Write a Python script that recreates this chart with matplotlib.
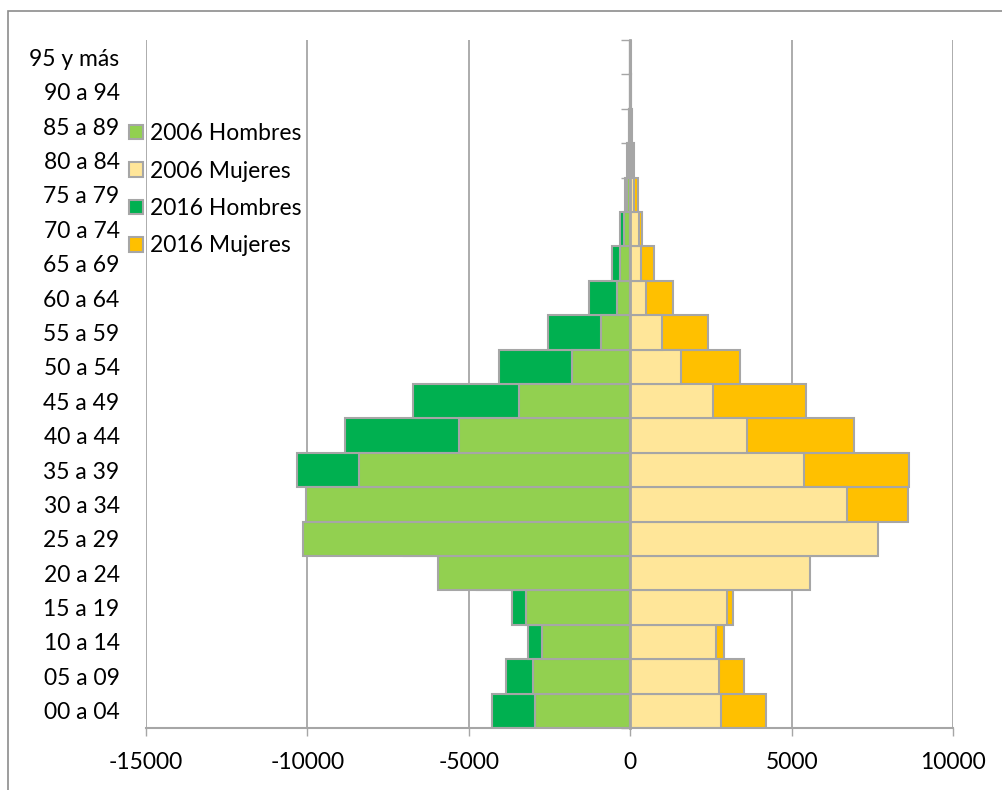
import numpy as np
import matplotlib.pyplot as plt
from matplotlib.patches import Rectangle, Patch

plt.rcParams['font.family'] = ['Lato', 'DejaVu Sans']
plt.rcParams['axes.unicode_minus'] = False

# Grupos de edad (de abajo hacia arriba)
grupos = ['00 a 04', '05 a 09', '10 a 14', '15 a 19', '20 a 24', '25 a 29',
          '30 a 34', '35 a 39', '40 a 44', '45 a 49', '50 a 54', '55 a 59',
          '60 a 64', '65 a 69', '70 a 74', '75 a 79', '80 a 84', '85 a 89',
          '90 a 94', '95 y más']

hombres_2006 = [2940, 3000, 2740, 3220, 5960, 10140, 10040, 8410, 5290, 3430,
                1810, 900, 410, 310, 200, 100, 60, 30, 15, 5]
hombres_2016 = [4270, 3850, 3170, 3650, 4750, 7000, 9500, 10310, 8850, 6740,
                4060, 2550, 1290, 570, 310, 175, 100, 50, 20, 8]
mujeres_2006 = [2810, 2740, 2670, 3010, 5560, 7680, 6730, 5370, 3630, 2550,
                1570, 980, 500, 330, 260, 125, 70, 30, 15, 5]
mujeres_2016 = [4210, 3540, 2900, 3200, 4600, 7600, 8620, 8640, 6940, 5440,
                3390, 2400, 1340, 740, 360, 230, 120, 50, 25, 10]

c_h06 = '#92D050'
c_m06 = '#FFE699'
c_h16 = '#00B050'
c_m16 = '#FFC000'
gris = '#A6A6A6'

y = np.arange(len(grupos))

fig = plt.figure(figsize=(10.03, 7.9), dpi=100)
ax = fig.add_axes([146/1003, 1 - 728/790, (953 - 146)/1003, (728 - 40)/790])

# 2016 detras, 2006 delante
kw = dict(height=1.0, edgecolor=gris, linewidth=1.5)
ax.barh(y, -np.array(hombres_2016), color=c_h16, **kw)
ax.barh(y, mujeres_2016, color=c_m16, **kw)
ax.barh(y, -np.array(hombres_2006), color=c_h06, **kw)
ax.barh(y, mujeres_2006, color=c_m06, **kw)

ax.set_xlim(-15000, 10000)
ax.set_ylim(-0.5, len(grupos) - 0.5)
ax.set_xticks(np.arange(-15000, 10001, 5000))
ax.tick_params(axis='x', labelsize=16.5, length=6, width=1, color=gris, pad=11)
ax.grid(axis='x', color=gris, linewidth=1.3)
ax.set_axisbelow(True)

for s in ['top', 'right']:
    ax.spines[s].set_visible(False)
ax.spines['bottom'].set_color(gris)
ax.spines['bottom'].set_linewidth(1.5)
ax.spines['left'].set_position(('data', 0))
ax.spines['left'].set_color(gris)
ax.spines['left'].set_linewidth(2)

# marcas del eje vertical en los limites de cada grupo
ax.set_yticks(np.arange(-0.5, len(grupos), 1.0))
ax.set_yticklabels([])
ax.tick_params(axis='y', length=6.5, width=1, color=gris)

# etiquetas de grupos a la izquierda del area
sec = ax.secondary_yaxis('left')
sec.set_yticks(y, grupos)
sec.tick_params(length=0, labelsize=16.5, pad=19)
sec.spines['left'].set_visible(False)

handles = [Patch(facecolor=c_h06, edgecolor=gris, linewidth=1.5),
           Patch(facecolor=c_m06, edgecolor=gris, linewidth=1.5),
           Patch(facecolor=c_h16, edgecolor=gris, linewidth=1.5),
           Patch(facecolor=c_m16, edgecolor=gris, linewidth=1.5)]
fig.legend(handles, ['2006 Hombres', '2006 Mujeres', '2016 Hombres', '2016 Mujeres'],
           loc='upper left', bbox_to_anchor=(129/1003, 1 - 123/790),
           frameon=False, fontsize=16.5, handlelength=0.6, handleheight=0.6,
           handletextpad=0.3, labelspacing=0.72, borderpad=0, borderaxespad=0)

fig.patches.append(Rectangle((8/1003, -0.05), 1.2, 1.05 - 10.5/790,
                             transform=fig.transFigure, fill=False,
                             edgecolor='#8C8C8C', linewidth=1.2))

fig.savefig('out.png', dpi=100)
